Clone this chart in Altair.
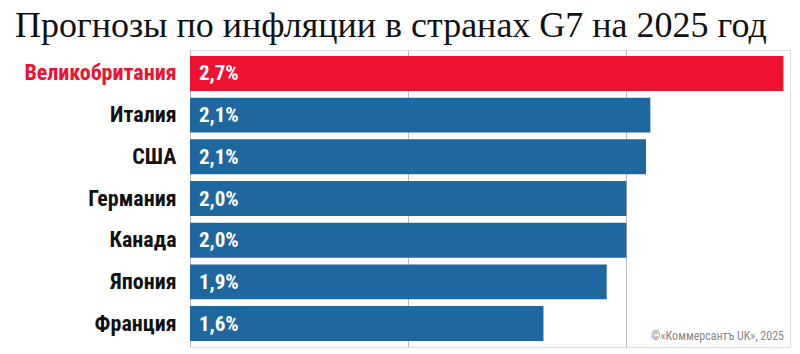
import altair as alt
import pandas as pd

countries = ["Великобритания", "Италия", "США", "Германия", "Канада", "Япония", "Франция"]
values = [2.72, 2.11, 2.09, 2.0, 2.0, 1.91, 1.62]
labels = ["2,7%", "2,1%", "2,1%", "2,0%", "2,0%", "1,9%", "1,6%"]
highlight = ["Великобритания"]

df = pd.DataFrame({"country": countries, "value": values, "label": labels})
df["hl"] = df["country"].isin(highlight)

COND = "Liberation Sans Narrow, Roboto Condensed, DejaVu Sans Condensed, sans-serif"
RED = "#ee1131"
BLUE = "#1f679f"

W, H = 600, 297

y_enc = alt.Y("country:N", sort=countries, title=None,
              scale=alt.Scale(paddingInner=0.162, paddingOuter=0.144),
              axis=alt.Axis(domain=False, ticks=False, labelPadding=14,
                            labelFont=COND, labelFontSize=22, labelFontWeight="bold",
                            labelColor=alt.expr(f"datum.value == '{highlight[0]}' ? '{RED}' : '#111111'")))

bars = alt.Chart(df).mark_bar().encode(
    x=alt.X("value:Q", scale=alt.Scale(domain=[0, 2.75], nice=False), title=None,
            axis=alt.Axis(values=[0, 1, 2], labels=False, ticks=False, domain=False,
                          grid=True, gridColor="#bbbbbb", gridWidth=1)),
    y=y_enc,
    color=alt.condition("datum.hl", alt.value(RED), alt.value(BLUE)),
)

text = alt.Chart(df).mark_text(align="left", baseline="middle", font=COND,
                               fontSize=21, fontWeight="bold", color="white", dy=1).encode(
    x=alt.value(9),
    y=alt.Y("country:N", sort=countries),
    text="label:N",
)

source = alt.Chart(pd.DataFrame({"t": ["©«Коммерсантъ UK», 2025"]})).mark_text(
    align="right", baseline="alphabetic", font=COND, fontSize=12, color="#888888"
).encode(x=alt.value(594), y=alt.value(290), text="t:N")

chart = alt.layer(bars, text, source).properties(
    width=W, height=H,
    title=alt.TitleParams("Прогнозы по инфляции в странах G7 на 2025 год",
                          anchor="start", frame="group", dx=-175, offset=5,
                          font="Liberation Serif", fontSize=36, fontWeight="normal",
                          color="#111111"),
    autosize="none",
    padding={"left": 190, "top": 50, "right": 10, "bottom": 7},
).configure_view(stroke=None).configure(background="white")

chart.save("out.html", embed_options={"renderer": "svg", "actions": False})
